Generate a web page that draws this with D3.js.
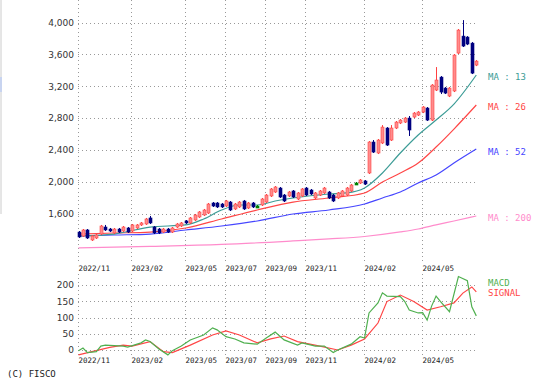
<!DOCTYPE html>
<html>
<head>
<meta charset="utf-8">
<script src="https://cdn.jsdelivr.net/npm/d3@7"></script>
<style>
  body { margin: 0; background: #fff; }
  svg { display: block; }
  .lbl { font-family: "DejaVu Sans", sans-serif; font-size: 9px; fill: #333; }
  .mono { font-family: "DejaVu Sans Mono", monospace; font-size: 7.5px; fill: #222; }
  .tag { font-family: "DejaVu Sans Mono", monospace; font-size: 9px; }
</style>
</head>
<body>
<div id="canvas"></div>
<script>
// weekly candles, one per week
const open  = [1367,1317,1393,1267,1292,1342,1430,1405,1355,1405,1380,1418,1380,1418,1456,1468,1544,1430,1405,1367,
               1405,1367,1430,1443,1506,1481,1518,1556,1581,1606,1732,1732,1719,1694,1744,1657,1682,1757,1669,1732,
               1694,1707,1744,1820,1870,1920,1832,1820,1883,1782,1820,1920,1895,1795,1832,1858,1870,1832,1795,1820,
               1832,1883,1983,1983,2008,2109,2498,2360,2486,2674,2523,2674,2737,2749,2799,2812,2837,2875,2925,2774,
               3151,3314,3176,3076,3139,3616,3829,3817,3741,3465];
const close = [1305,1393,1292,1317,1330,1443,1393,1380,1405,1367,1430,1367,1456,1456,1481,1531,1481,1355,1355,1405,
               1367,1418,1468,1481,1481,1544,1581,1619,1644,1719,1694,1682,1682,1757,1644,1719,1744,1657,1732,1682,
               1694,1782,1832,1908,1933,1807,1757,1870,1807,1858,1908,1832,1845,1858,1883,1920,1795,1757,1858,1883,
               1920,1958,1983,2021,1971,2498,2372,2523,2686,2460,2674,2749,2774,2799,2649,2862,2875,2938,2774,3214,
               3277,3126,3113,3176,3591,3905,3704,3729,3364,3515];
const high  = [1380,1405,1405,1330,1342,1456,1456,1418,1418,1418,1443,1430,1468,1468,1493,1544,1569,1443,1418,1418,
               1418,1430,1481,1493,1518,1556,1594,1631,1657,1732,1744,1744,1732,1770,1757,1732,1757,1770,1744,1744,
               1707,1795,1845,1920,1945,1933,1845,1883,1895,1870,1920,1933,1908,1870,1895,1933,1883,1845,1870,1895,
               1933,1971,1996,2033,2021,2510,2523,2536,2711,2686,2711,2762,2787,2812,2825,2875,2887,2950,2938,3226,
               3440,3327,3189,3189,3604,3918,4030,3829,3754,3528];
const low   = [1292,1305,1280,1255,1280,1330,1380,1367,1342,1355,1367,1355,1367,1405,1443,1456,1468,1342,1342,1355,
               1355,1355,1418,1430,1468,1468,1506,1544,1569,1594,1682,1669,1669,1682,1631,1644,1669,1644,1657,1669,
               1682,1694,1732,1807,1858,1795,1744,1807,1795,1770,1807,1820,1832,1782,1820,1845,1782,1744,1782,1807,
               1820,1870,1971,1971,1958,2096,2360,2347,2473,2448,2511,2661,2724,2737,2574,2799,2825,2862,2762,2762,
               3139,3101,3101,3063,3126,3604,3692,3716,3352,3452];

// moving averages (week index, price)
const ma13Idx = [0,8,16,24,28,32,36,40,44,48,56,60,64,68,72,76,80,84,89];
const ma13    = [1317,1342,1430,1456,1531,1644,1707,1707,1757,1795,1845,1858,1920,2109,2360,2586,2774,2975,3340];
const ma26Idx = [0,8,16,24,32,40,48,56,64,68,72,76,80,84,89];
const ma26    = [1342,1355,1367,1418,1531,1644,1744,1795,1858,1996,2109,2234,2435,2661,2963];
const ma52Idx = [0,8,16,24,32,40,48,56,64,68,72,76,80,84,89];
const ma52    = [1317,1330,1342,1393,1443,1506,1594,1644,1719,1795,1870,1983,2084,2234,2410];
const ma200Idx = [0,16,32,48,56,64,72,76,80,84,89];
const ma200    = [1167,1186,1211,1255,1280,1311,1368,1405,1456,1506,1569];

// MACD / signal (week index, value)
const macdIdx = [0,1,2,4,5,6,10,11,14,15,16,18,20,21,23,25,28,30,31,33,35,37,40,42,44,46,49,50,53,55,57,58,61,63,64,65,67,68,69,72,73,74,76,77,78,79,80,81,83,85,87,88,89];
const macd    = [-2,6,-8,-5,12,15,12,9,22,31,26,3,-15,-2,12,31,46,68,62,41,34,22,18,37,55,31,15,22,12,12,-8,0,18,41,37,114,145,176,166,164,149,123,114,115,92,135,166,149,118,226,213,133,105];
const sigIdx  = [0,3,7,10,12,16,19,21,25,30,33,36,40,43,46,49,54,58,61,64,67,69,72,75,78,81,84,86,88,89];
const signal  = [-15,-5,8,15,12,26,-5,-8,15,46,59,46,22,34,43,26,12,0,15,34,83,149,169,149,123,133,145,175,194,179];

const dateLabels = ['2022/11','2023/02','2023/05','2023/07','2023/09','2023/11','2024/02','2024/05'];
const dateIdx = [0,12,24,33,42,51,64,77];
const priceTicks = [1600,2000,2400,2800,3200,3600,4000];
const macdTicks = [0,50,100,150,200];

const width = 548, height = 382;
const left = 78, right = 478;

const svg = d3.select('#canvas')
  .append('svg')
  .attr('width', width)
  .attr('height', height);

// scales
const x = d3.scaleLinear().domain([0, 89]).range([78.5, 476.3]);
const y = d3.scaleLinear().domain([1600, 4000]).range([213.5, 22.5]);
const ym = d3.scaleLinear().domain([0, 200]).range([350, 285]);

// faint page edge at the left
svg.append('line')
  .attr('x1', 1).attr('x2', 1).attr('y1', 0).attr('y2', 214)
  .attr('stroke', '#ccc');
svg.append('rect')
  .attr('x', 0).attr('y', 77).attr('width', 2).attr('height', 15)
  .attr('fill', '#c8d4f0');

const grid = svg.append('g')
  .attr('stroke', '#999')
  .attr('stroke-width', 1)
  .attr('stroke-dasharray', '1,3');

// main grid
grid.selectAll('.hp').data(priceTicks).enter().append('line')
  .attr('x1', left).attr('x2', right)
  .attr('y1', d => Math.round(y(d)) + 0.5).attr('y2', d => Math.round(y(d)) + 0.5);
grid.selectAll('.vp').data(dateIdx).enter().append('line')
  .attr('x1', d => Math.round(x(d)) - 0.5).attr('x2', d => Math.round(x(d)) - 0.5)
  .attr('y1', 0).attr('y2', 262);

// macd grid
grid.selectAll('.hm').data(macdTicks).enter().append('line')
  .attr('x1', left).attr('x2', right)
  .attr('y1', d => Math.round(ym(d)) + 0.5).attr('y2', d => Math.round(ym(d)) + 0.5);
grid.selectAll('.vm').data(dateIdx).enter().append('line')
  .attr('x1', d => Math.round(x(d)) - 0.5).attr('x2', d => Math.round(x(d)) - 0.5)
  .attr('y1', 274).attr('y2', 357);

// axes (labels only)
const yAxis = d3.axisLeft(y).tickValues(priceTicks).tickSize(0).tickPadding(4)
  .tickFormat(d3.format(','));
const yAxisGroup = svg.append('g').attr('transform', `translate(${left},0)`).call(yAxis);
const ymAxis = d3.axisLeft(ym).tickValues(macdTicks).tickSize(0).tickPadding(4);
const ymAxisGroup = svg.append('g').attr('transform', `translate(${left},0)`).call(ymAxis);
[yAxisGroup, ymAxisGroup].forEach(g => {
  g.select('.domain').remove();
  g.selectAll('text').attr('class', 'lbl').attr('font-family', null).attr('font-size', null).attr('fill', null);
});
yAxisGroup.attr('font-family', null).attr('font-size', null);
ymAxisGroup.attr('font-family', null).attr('font-size', null);

// date labels, two rows
[271, 363].forEach(ty => {
  svg.append('g').selectAll('text').data(dateIdx).enter().append('text')
    .attr('class', 'mono')
    .attr('x', d => Math.round(x(d)) - 0.5)
    .attr('y', ty)
    .text((d, i) => dateLabels[i]);
});

// moving averages
const maLine = (idx) => d3.line()
  .curve(d3.curveMonotoneX)
  .x((d, i) => x(idx[i]))
  .y(d => y(d));

const mas = [
  { idx: ma200Idx, vals: ma200, color: '#ff8ccc', name: 'MA : 200', ly: 221 },
  { idx: ma52Idx, vals: ma52, color: '#4646ff', name: 'MA : 52', ly: 155 },
  { idx: ma26Idx, vals: ma26, color: '#ff4646', name: 'MA : 26', ly: 110 },
  { idx: ma13Idx, vals: ma13, color: '#3c9c96', name: 'MA : 13', ly: 80 }
];
mas.forEach(m => {
  svg.append('path')
    .datum(m.vals)
    .attr('fill', 'none')
    .attr('stroke', m.color)
    .attr('stroke-width', 1.2)
    .attr('d', maLine(m.idx));
  svg.append('text')
    .attr('class', 'tag')
    .attr('x', 488)
    .attr('y', m.ly)
    .attr('fill', m.color)
    .text(m.name);
});

// candles
const candles = svg.append('g');
open.forEach((o, i) => {
  const c = close[i];
  const up = c > o, flat = c === o;
  const col = flat ? '#008000' : (up ? '#ff4040' : '#000080');
  const fill = flat ? '#008000' : (up ? '#ff8c8c' : '#000080');
  const cx = Math.round(x(i)) + 0.5;
  candles.append('line')
    .attr('x1', cx).attr('x2', cx)
    .attr('y1', y(high[i])).attr('y2', y(low[i]))
    .attr('stroke', col);
  const top = y(Math.max(o, c)), bot = y(Math.min(o, c));
  candles.append('rect')
    .attr('x', cx - 1.5)
    .attr('y', top)
    .attr('width', 3)
    .attr('height', Math.max(bot - top, 2))
    .attr('fill', fill)
    .attr('stroke', col)
    .attr('stroke-width', 0.6);
});

// macd + signal
const mLine = (idx) => d3.line()
  .x((d, i) => x(idx[i]))
  .y(d => ym(d));
svg.append('path').datum(signal)
  .attr('fill', 'none').attr('stroke', '#ff4646').attr('stroke-width', 1.2)
  .attr('d', mLine(sigIdx));
svg.append('path').datum(macd)
  .attr('fill', 'none').attr('stroke', '#50b050').attr('stroke-width', 1.2)
  .attr('d', mLine(macdIdx));

svg.append('text').attr('class', 'tag').attr('x', 488).attr('y', 286).attr('fill', '#50b050').text('MACD');
svg.append('text').attr('class', 'tag').attr('x', 488).attr('y', 296).attr('fill', '#ff4646').text('SIGNAL');

svg.append('text').attr('class', 'tag').attr('x', 7).attr('y', 377).attr('fill', '#222').text('(C) FISCO');
</script>
</body>
</html>
